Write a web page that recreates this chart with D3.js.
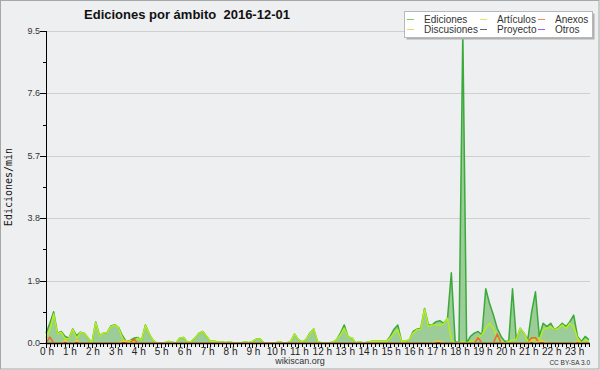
<!DOCTYPE html>
<html><head><meta charset="utf-8">
<script src="https://cdnjs.cloudflare.com/ajax/libs/d3/7.8.5/d3.min.js"></script>
<style>
html,body{margin:0;padding:0;background:#eeeff0;}
svg{display:block;font-family:"Liberation Sans",Arial,sans-serif;}
</style></head>
<body><svg id="c" width="600" height="370"></svg>
<script>
// 10-minute slots, 0:00 .. 23:40 (143 points)
const hourLabels = ["0 h","1 h","2 h","3 h","4 h","5 h","6 h","7 h","8 h","9 h","10 h","11 h","12 h","13 h","14 h","15 h","16 h","17 h","18 h","19 h","20 h","21 h","22 h","23 h"];
const yTickValues = [0, 1.9, 3.8, 5.7, 7.6, 9.5];
const seriesNames = ["Ediciones","Artículos","Anexos","Discusiones","Proyecto","Otros"];

const ediciones = [
0.3,0.6,0.95,0.3,0.35,0.2,0.15,0.43,0.22,0.33,0.3,0.15,0.0,0.64,0.22,0.3,0.32,0.52,0.56,0.47,
0.22,0.04,0.08,0.15,0.17,0.08,0.55,0.27,0.08,0,0,0,0.05,0.02,0,0.15,0.17,0.02,0.05,0.15,
0.3,0.35,0.2,0.05,0.05,0.03,0.04,0.01,0.04,0,0,0,0.04,0.01,0.05,0.12,0.12,0,0,0,
0,0.04,0,0,0.05,0.27,0.1,0.03,0.1,0.3,0.43,0.05,0,0,0,0.02,0.1,0.3,0.55,0.18,
0.15,0,0.04,0,0.02,0.05,0.05,0.05,0.05,0.05,0.2,0.42,0.55,0.05,0.05,0.1,0.35,0.42,0.45,1.05,
0.55,0.55,0.65,0.68,0.6,0.75,2.14,0.05,0.0,9.5,0.0,0.2,0.3,0.35,0.25,1.65,1.2,0.85,0.45,0.2,
0.05,0.05,1.65,0.1,0.45,0.3,0.1,0.95,1.56,0.2,0.6,0.5,0.6,0.4,0.48,0.6,0.5,0.65,0.85,0.2,
0.05,0.2,0.1];

const articulos = [
0.15,0.4,0.88,0.28,0.33,0.12,0.14,0.42,0.14,0.32,0.3,0.15,0.0,0.62,0.2,0.3,0.32,0.5,0.55,0.46,
0.15,0.0,0.08,0.03,0.15,0.08,0.53,0.27,0.08,0,0,0,0.05,0.02,0,0.15,0.17,0.02,0.05,0.15,
0.3,0.35,0.2,0.05,0.05,0.03,0.04,0.01,0.04,0,0,0,0.04,0.01,0.05,0.12,0.12,0,0,0,
0,0.04,0,0,0.05,0.27,0.1,0.03,0.1,0.28,0.43,0.05,0,0,0,0.02,0.1,0.25,0.45,0.18,
0.15,0,0.04,0,0.02,0.05,0.05,0.05,0.05,0.05,0.15,0.3,0.4,0.05,0.05,0.1,0.3,0.4,0.42,1.03,
0.5,0.55,0.55,0.55,0.58,0.75,0.1,0.0,0.0,0.05,0.0,0.05,0.05,0.15,0.25,0.45,0.6,0.45,0.15,0.05,
0.0,0.05,0.1,0.1,0.45,0.3,0.05,0.1,0.1,0.1,0.4,0.45,0.5,0.4,0.45,0.55,0.45,0.6,0.5,0.15,
0.0,0.1,0.05];

const anexos = [
0,0.18,0,0,0,0,0,0,0,0,0,0,0,0,0,0,0,0,0,0,
0,0,0,0.12,0,0,0,0,0,0,0,0,0,0,0,0,0,0,0,0,
0,0,0,0,0,0,0,0,0,0,0,0,0,0,0,0,0,0,0,0,
0,0,0,0,0,0,0,0,0,0,0,0,0,0,0,0,0,0,0,0,
0,0,0,0,0,0,0,0,0,0,0,0,0,0,0,0,0,0,0,0,
0,0,0,0,0,0,0,0,0,0,0,0,0,0.16,0,0,0,0,0.27,0,
0,0,0,0,0,0,0,0.16,0.16,0,0,0,0,0,0,0,0,0,0,0,
0,0,0];

const discusiones = [
0,0,0,0,0,0.08,0,0,0.08,0,0,0,0,0,0,0,0,0,0,0,
0.05,0.06,0,0,0,0,0,0,0,0,0,0,0,0,0,0,0,0,0,0,
0,0,0,0,0,0,0,0,0,0,0,0,0,0,0,0,0,0,0,0,
0,0,0,0,0,0,0,0,0,0,0,0,0,0,0,0,0,0,0,0,
0,0,0,0,0,0,0,0,0,0,0,0,0,0,0,0,0,0,0,0,
0,0,0.05,0.05,0,0,0,0,0,0,0,0,0,0,0,0,0,0,0,0,
0,0,0,0,0,0,0,0.06,0,0.05,0.06,0,0,0,0,0,0,0,0,0.06,
0,0,0];

const proyecto = new Array(143).fill(0);
const otros = new Array(143).fill(0);

const colors = ["#3aaa3a","#b4ec1e","#f0682a","#f0c83a","#555555","#9a4ee8"];
const legendColors = ["#7ccc7c","#cdee6a","#f08a5a","#f0d46a","#666666","#a060ee"];
const seriesData = [ediciones, articulos, anexos, discusiones, proyecto, otros];

const svg = d3.select("#c");
const W = 600, H = 370;
const pLeft = 46, pRight = 589, pTop = 31, pBottom = 343;

svg.append("rect").attr("x",0.5).attr("y",0.5).attr("width",W-1.5).attr("height",H-1.5)
  .attr("fill","#eeeff0").attr("stroke","#a8a8a8").attr("stroke-width",1);

const x = d3.scaleLinear().domain([0, ediciones.length-1]).range([pLeft, pRight]);
const y = d3.scaleLinear().domain([0, 9.5]).range([pBottom, pTop]);

// grid
svg.append("g").selectAll("line").data(yTickValues.filter(v=>v>0)).join("line")
  .attr("x1",pLeft).attr("x2",pRight+1)
  .attr("y1",d=>Math.round(y(d))+0.5).attr("y2",d=>Math.round(y(d))+0.5)
  .attr("stroke","#cfcfcf").attr("stroke-width",1);

// area
const area = d3.area().x((d,i)=>x(i)).y0(y(0)).y1(d=>y(d));
svg.append("path").datum(ediciones).attr("d",area).attr("fill","#9ccc98");

// lines
const line = d3.line().x((d,i)=>x(i)).y(d=>y(d));
const order = [5,4,0,1,2,3];
order.forEach(k=>{
  svg.append("path").datum(seriesData[k]).attr("d",line)
    .attr("fill","none").attr("stroke",colors[k]).attr("stroke-width",1.5)
    .attr("stroke-linejoin","round");
});

// y axis
const yMinor = d3.range(0, 9.5+0.001, 0.95);
const yAxis = svg.append("g");
yAxis.append("line").attr("x1",pLeft+0.5).attr("x2",pLeft+0.5).attr("y1",pTop).attr("y2",pBottom+1)
  .attr("stroke","#000");
yAxis.selectAll("line.minor").data(yMinor).join("line").attr("class","minor")
  .attr("x1",pLeft-3).attr("x2",pLeft).attr("y1",d=>Math.round(y(d))+0.5).attr("y2",d=>Math.round(y(d))+0.5)
  .attr("stroke","#000");
yAxis.selectAll("line.major").data(yTickValues).join("line").attr("class","major")
  .attr("x1",pLeft-6).attr("x2",pLeft).attr("y1",d=>Math.round(y(d))+0.5).attr("y2",d=>Math.round(y(d))+0.5)
  .attr("stroke","#000");
yAxis.selectAll("text").data(yTickValues).join("text")
  .attr("x",pLeft-6).attr("y",d=>y(d)+3).attr("text-anchor","end")
  .attr("font-size",9).attr("fill","#333").text(d=>d.toFixed(1));

// x axis
const xAxis = svg.append("g");
xAxis.append("line").attr("x1",pLeft).attr("x2",pRight+1).attr("y1",pBottom+0.5).attr("y2",pBottom+0.5)
  .attr("stroke","#000").attr("stroke-width",1.5);
xAxis.selectAll("line.t").data(d3.range(ediciones.length)).join("line").attr("class","t")
  .attr("x1",d=>Math.round(x(d))+0.5).attr("x2",d=>Math.round(x(d))+0.5)
  .attr("y1",pBottom).attr("y2",d=> d%6===0 ? pBottom+5 : pBottom+4)
  .attr("stroke","#000");
xAxis.selectAll("text").data(hourLabels).join("text")
  .attr("x",(d,i)=>x(i*6)+1).attr("y",pBottom+12).attr("text-anchor","middle")
  .attr("font-size",10).attr("fill","#222").text(d=>d);

// titles
svg.append("text").attr("x",187).attr("y",19).attr("text-anchor","middle")
  .attr("font-size",13).attr("font-weight","bold").attr("fill","#111")
  .style("white-space","pre")
  .text("Ediciones por ámbito  2016-12-01");
svg.append("text").attr("transform","translate(12,187) rotate(-90)")
  .attr("text-anchor","middle").attr("font-family","DejaVu Sans Mono").attr("font-size",10)
  .attr("fill","#111").text("Ediciones/min");
svg.append("text").attr("x",300).attr("y",364).attr("text-anchor","middle")
  .attr("font-size",9).attr("fill","#333").text("wikiscan.org");
svg.append("text").attr("x",590).attr("y",365).attr("text-anchor","end")
  .attr("font-size",6.5).attr("fill","#333").text("CC BY-SA 3.0");

// legend
const lg = svg.append("g");
lg.append("rect").attr("x",406.5).attr("y",13.5).attr("width",188).attr("height",26).attr("fill","#b0b0b0");
lg.append("rect").attr("x",404.5).attr("y",11.5).attr("width",188).attr("height",26)
  .attr("fill","#fff").attr("stroke","#b8b8b8");
const colX = [407, 480, 538];
const rowY = [19.5, 29.5];
const legendPos = [[0,0],[1,0],[2,0],[0,1],[1,1],[2,1]];
seriesNames.forEach((n,k)=>{
  const [c,r] = legendPos[k];
  lg.append("line").attr("x1",colX[c]).attr("x2",colX[c]+7).attr("y1",rowY[r]).attr("y2",rowY[r])
    .attr("stroke",legendColors[k]).attr("stroke-width",1);
  lg.append("text").attr("x",colX[c]+17).attr("y",rowY[r]+3.5).attr("font-size",10)
    .attr("fill","#333").text(n);
});
</script></body></html>
